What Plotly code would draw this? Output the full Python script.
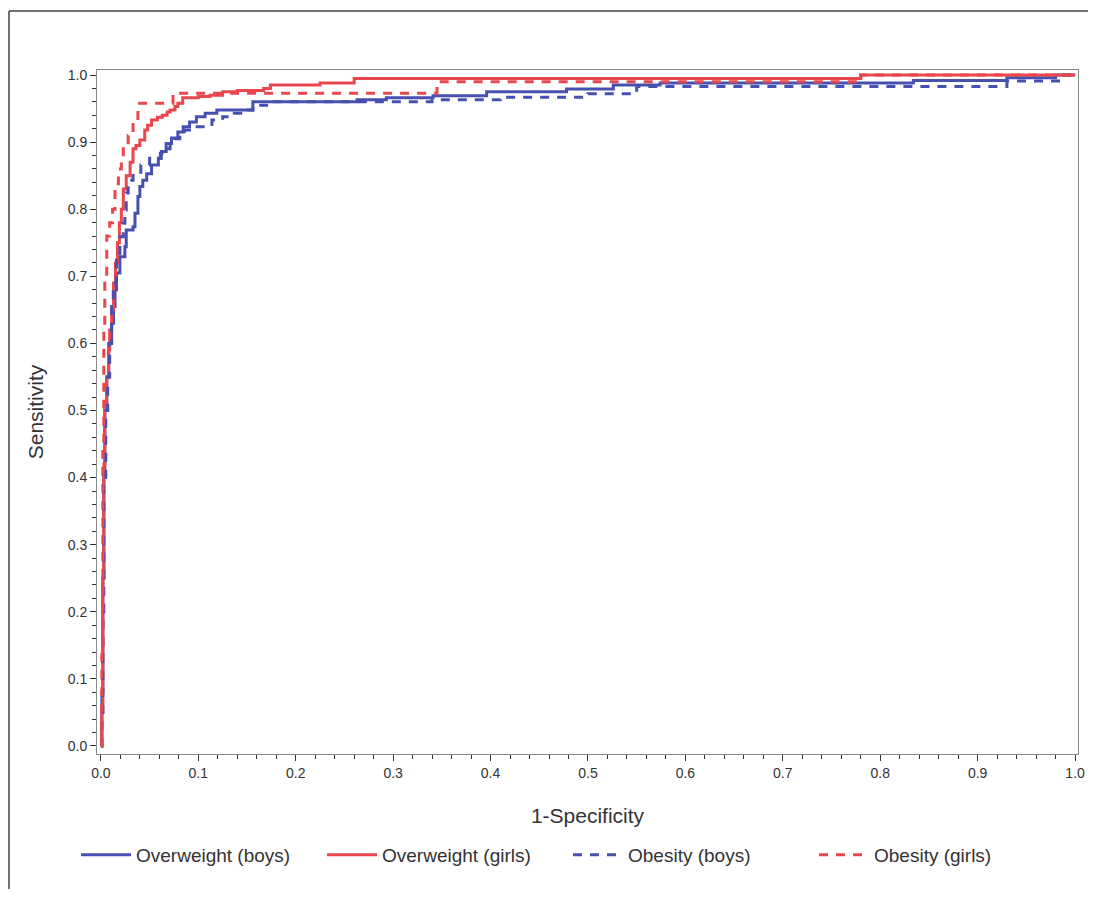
import plotly.graph_objects as go

# ---- data (1-Specificity, Sensitivity) ----
ow_boys_fpr = [0, 0.001, 0.002, 0.003, 0.004, 0.006, 0.008, 0.011, 0.013, 0.0145, 0.016, 0.0195,
               0.0246, 0.026, 0.033, 0.035, 0.038, 0.04, 0.043, 0.047, 0.052, 0.059, 0.062, 0.067,
               0.0725, 0.079, 0.0845, 0.091, 0.098, 0.107, 0.119, 0.156, 0.263, 0.293, 0.341, 0.396,
               0.478, 0.526, 0.574, 0.834, 0.93, 0.98, 1.0]
ow_boys_tpr = [0, 0.08, 0.25, 0.4, 0.5, 0.55, 0.6, 0.63, 0.655, 0.68, 0.705, 0.729,
               0.744, 0.769, 0.774, 0.794, 0.819, 0.834, 0.843, 0.853, 0.866, 0.876, 0.886, 0.898,
               0.906, 0.915, 0.923, 0.930, 0.938, 0.943, 0.948, 0.960, 0.963, 0.966, 0.969, 0.975,
               0.979, 0.985, 0.988, 0.992, 0.996, 1.0, 1.0]

ow_girls_fpr = [0, 0.001, 0.002, 0.003, 0.004, 0.006, 0.008, 0.009, 0.011, 0.013, 0.015, 0.017,
                0.019, 0.021, 0.023, 0.026, 0.03, 0.033, 0.036, 0.04, 0.045, 0.048, 0.052, 0.058,
                0.063, 0.068, 0.071, 0.076, 0.079, 0.084, 0.1, 0.112, 0.125, 0.14, 0.167,
                0.174, 0.225, 0.26, 0.78, 1.0]
ow_girls_tpr = [0, 0.05, 0.25, 0.42, 0.5, 0.55, 0.59, 0.62, 0.65, 0.69, 0.72, 0.75,
                0.78, 0.80, 0.83, 0.85, 0.87, 0.89, 0.895, 0.903, 0.918, 0.925, 0.933, 0.937,
                0.940, 0.945, 0.948, 0.953, 0.958, 0.966, 0.968, 0.97, 0.975, 0.977, 0.98,
                0.985, 0.988, 0.995, 1.0, 1.0]

ob_boys_fpr = [0, 0.001, 0.002, 0.003, 0.005, 0.007, 0.009, 0.011, 0.0127, 0.016, 0.0195, 0.023,
               0.0246, 0.026, 0.028, 0.033, 0.041, 0.05, 0.061, 0.066, 0.071, 0.076, 0.081, 0.086,
               0.091, 0.105, 0.114, 0.125, 0.137, 0.146, 0.156, 0.175, 0.34, 0.41, 0.5, 0.55,
               0.93, 0.985, 1.0]
ob_boys_tpr = [0, 0.05, 0.2, 0.4, 0.5, 0.55, 0.6, 0.655, 0.69, 0.724, 0.759, 0.779,
               0.799, 0.824, 0.843, 0.855, 0.866, 0.876, 0.883, 0.89, 0.898, 0.905, 0.913, 0.918,
               0.923, 0.923, 0.933, 0.938, 0.943, 0.948, 0.955, 0.96, 0.963, 0.967, 0.972, 0.983,
               0.991, 1.0, 1.0]

ob_girls_fpr = [0, 0.001, 0.002, 0.003, 0.004, 0.006, 0.009, 0.012, 0.0145, 0.018, 0.021, 0.023,
                0.028, 0.033, 0.038, 0.074, 0.345, 0.78, 1.0]
ob_girls_tpr = [0, 0.15, 0.45, 0.62, 0.70, 0.76, 0.78, 0.80, 0.838, 0.86, 0.873, 0.893,
                0.91, 0.933, 0.958, 0.973, 0.99, 1.0, 1.0]

names = ["Overweight (boys)", "Overweight (girls)", "Obesity (boys)", "Obesity (girls)"]
tick_vals = [0.0, 0.1, 0.2, 0.3, 0.4, 0.5, 0.6, 0.7, 0.8, 0.9, 1.0]

BLUE = "#4650b0"
RED = "#e8474c"
FONT = "Liberation Sans, Arial, sans-serif"

# page has an 8px body margin; the figure is sized to fit inside it
W, H = 1080, 881
ML, MR, MT, MB = 89, 10, 62, 135
PW, PH = W - ML - MR, H - MT - MB
OFF = 8  # page offset of the figure

fig = go.Figure()
series = [
    (ow_boys_fpr, ow_boys_tpr, BLUE, "solid"),
    (ow_girls_fpr, ow_girls_tpr, RED, "solid"),
    (ob_boys_fpr, ob_boys_tpr, BLUE, "9px,8px"),
    (ob_girls_fpr, ob_girls_tpr, RED, "9px,8px"),
]
for name, (xs, ys, col, dash) in zip(names, series):
    fig.add_trace(go.Scatter(
        x=xs, y=ys, mode="lines", name=name, line_shape="hv",
        line=dict(color=col, width=3, dash=dash),
    ))

axis_common = dict(
    tickvals=tick_vals, tickformat=".1f", ticks="outside", ticklen=6, tickwidth=1,
    tickcolor="#333333", showgrid=False, zeroline=False, showline=True,
    linecolor="#8a8a8a", linewidth=1, mirror=True, automargin=False,
    tickfont=dict(family=FONT, size=14, color="#333333"),
    minor=dict(dtick=0.02, ticks="outside", ticklen=4, tickcolor="#333333", showgrid=False),
)

fig.update_layout(
    width=W, height=H,
    margin=dict(l=ML, r=MR, t=MT, b=MB, autoexpand=False),
    paper_bgcolor="white", plot_bgcolor="white",
    font=dict(family=FONT, color="#333333"),
    xaxis=dict(range=[-0.004, 1.003], title=dict(text="1-Specificity", standoff=28,
               font=dict(size=21, color="#333333")), **axis_common),
    yaxis=dict(range=[-0.012, 1.0075], title=dict(text="Sensitivity", standoff=18,
               font=dict(size=21, color="#333333")), **axis_common),
    legend=dict(orientation="h", x=(76 - OFF - ML) / PW, xanchor="left",
                y=(MT + PH - (855 - OFF)) / PH, yanchor="middle",
                font=dict(size=19, color="#333333"), entrywidth=181, itemwidth=50,
                bgcolor="rgba(0,0,0,0)"),
    showlegend=True,
)

# outer frame (top and left edges visible in the reference)
top_y = (MT + PH - (11 - OFF)) / PH
left_x = (9 - OFF - ML) / PW
fig.add_shape(type="line", xref="paper", yref="paper", x0=left_x, x1=1.2, y0=top_y, y1=top_y,
              line=dict(color="#444444", width=1.5))
fig.add_shape(type="line", xref="paper", yref="paper", x0=left_x, x1=left_x, y0=top_y, y1=-0.3,
              line=dict(color="#444444", width=1.5))

fig.write_html("out.html")
